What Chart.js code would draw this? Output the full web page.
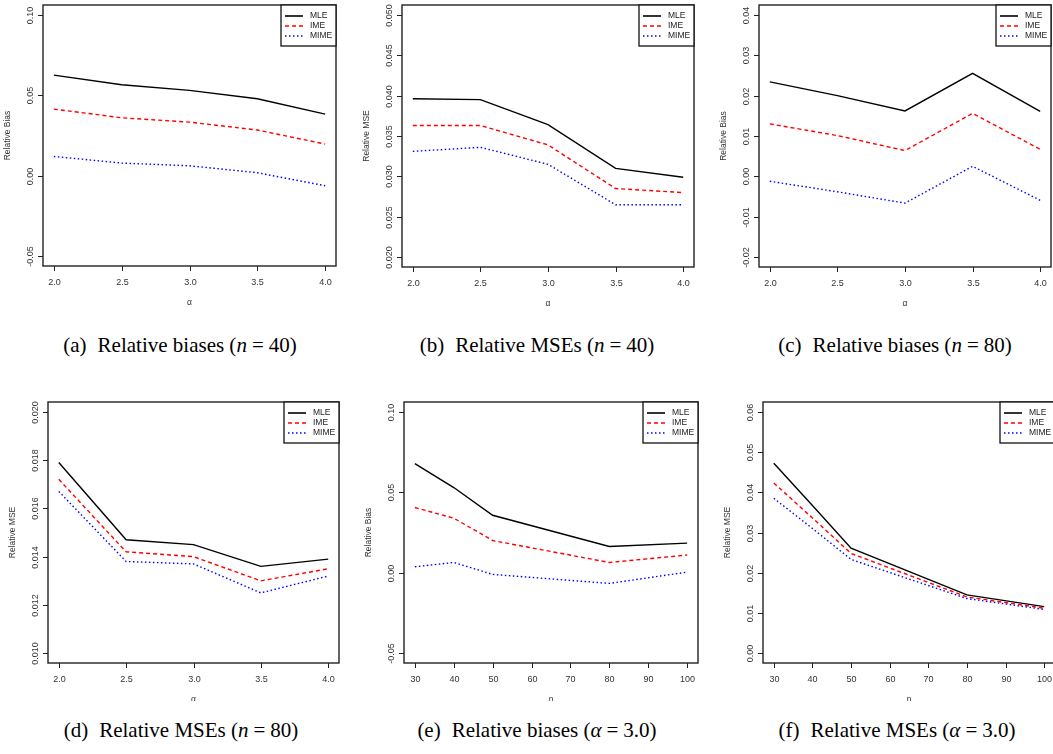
<!DOCTYPE html>
<html>
<head>
<meta charset="utf-8">
<script src="https://cdn.jsdelivr.net/npm/chart.js@4/dist/chart.umd.min.js"></script>
<style>
  body { margin: 0; width: 1053px; height: 754px; overflow: hidden; background: #fff; position: relative; }
  .panel { position: absolute; overflow: hidden; }
  .cap { position: absolute; width: 360px; margin-left: -180px; text-align: center; white-space: nowrap;
         font-family: "Liberation Serif", "Times New Roman", serif; font-size: 21px; color: #000; line-height: 22px; }
  .cap .q { display: inline-block; width: 11px; }
  .cap .t { display: inline-block; width: 5px; }
</style>
</head>
<body>

<div class="panel" style="left:0;top:0;width:351px;height:312px"><canvas id="chartA" width="351" height="312"></canvas></div>
<div class="panel" style="left:351px;top:0;width:351px;height:312px"><canvas id="chartB" width="351" height="312"></canvas></div>
<div class="panel" style="left:702px;top:0;width:351px;height:312px"><canvas id="chartC" width="351" height="312"></canvas></div>
<div class="panel" style="left:0;top:390px;width:351px;height:311px"><canvas id="chartD" width="351" height="311"></canvas></div>
<div class="panel" style="left:351px;top:390px;width:351px;height:311px"><canvas id="chartE" width="351" height="311"></canvas></div>
<div class="panel" style="left:702px;top:390px;width:351px;height:311px"><canvas id="chartF" width="360" height="311"></canvas></div>

<div class="cap" style="left:180px;top:334px">(a)<span class="q"></span>Relative biases (<i>n</i><span class="t"></span>=<span class="t"></span>40)</div>
<div class="cap" style="left:537px;top:334px">(b)<span class="q"></span>Relative MSEs (<i>n</i><span class="t"></span>=<span class="t"></span>40)</div>
<div class="cap" style="left:895px;top:334px">(c)<span class="q"></span>Relative biases (<i>n</i><span class="t"></span>=<span class="t"></span>80)</div>
<div class="cap" style="left:181px;top:719px">(d)<span class="q"></span>Relative MSEs (<i>n</i><span class="t"></span>=<span class="t"></span>80)</div>
<div class="cap" style="left:537px;top:719px">(e)<span class="q"></span>Relative biases (<i>α</i><span class="t"></span>=<span class="t"></span>3.0)</div>
<div class="cap" style="left:897px;top:719px">(f)<span class="q"></span>Relative MSEs (<i>α</i><span class="t"></span>=<span class="t"></span>3.0)</div>

<script>
// x values
var alphaVals = [2.0, 2.5, 3.0, 3.5, 4.0];
var nVals = [30, 40, 50, 80, 100];

// (a) relative bias, n = 40
var biasN40MLE  = [0.0625, 0.0565, 0.0530, 0.0478, 0.0383];
var biasN40IME  = [0.0414, 0.0360, 0.0333, 0.0284, 0.0197];
var biasN40MIME = [0.0120, 0.0079, 0.0062, 0.0019, -0.0062];

// (b) relative MSE, n = 40
var mseN40MLE  = [0.0396, 0.0395, 0.0364, 0.0310, 0.0299];
var mseN40IME  = [0.0363, 0.0363, 0.0339, 0.0285, 0.0280];
var mseN40MIME = [0.0331, 0.0336, 0.0315, 0.0265, 0.0265];

// (c) relative bias, n = 80
var biasN80MLE  = [0.0234, 0.0200, 0.0162, 0.0255, 0.0161];
var biasN80IME  = [0.0130, 0.0101, 0.0064, 0.0156, 0.0067];
var biasN80MIME = [-0.0012, -0.0038, -0.0066, 0.0025, -0.0059];

// (d) relative MSE, n = 80
var mseN80MLE  = [0.0179, 0.0147, 0.0145, 0.0136, 0.0139];
var mseN80IME  = [0.0172, 0.0142, 0.0140, 0.0130, 0.0135];
var mseN80MIME = [0.0167, 0.0138, 0.0137, 0.0125, 0.0132];

// (e) relative bias, alpha = 3.0
var biasA3MLE  = [0.0678, 0.0529, 0.0357, 0.0163, 0.0184];
var biasA3IME  = [0.0405, 0.0339, 0.0200, 0.0064, 0.0110];
var biasA3MIME = [0.0037, 0.0064, -0.0010, -0.0066, 0.0004];

// (f) relative MSE, alpha = 3.0
var mseA3MLE  = [0.0472, 0.0367, 0.0261, 0.0145, 0.0116];
var mseA3IME  = [0.0423, 0.0336, 0.0248, 0.0140, 0.0112];
var mseA3MIME = [0.0385, 0.0310, 0.0233, 0.0136, 0.0109];

// tick labels
var alphaTicks = [2.0, 2.5, 3.0, 3.5, 4.0];
var alphaTickLabels = ["2.0", "2.5", "3.0", "3.5", "4.0"];
var nTicks = [30, 40, 50, 60, 70, 80, 90, 100];
var nTickLabels = ["30", "40", "50", "60", "70", "80", "90", "100"];
var biasTicks = [-0.05, 0, 0.05, 0.10];
var biasTickLabels = ["-0.05", "0.00", "0.05", "0.10"];
var mse40Ticks = [0.020, 0.025, 0.030, 0.035, 0.040, 0.045, 0.050];
var mse40TickLabels = ["0.020", "0.025", "0.030", "0.035", "0.040", "0.045", "0.050"];
var bias80Ticks = [-0.02, -0.01, 0, 0.01, 0.02, 0.03, 0.04];
var bias80TickLabels = ["-0.02", "-0.01", "0.00", "0.01", "0.02", "0.03", "0.04"];
var mse80Ticks = [0.010, 0.012, 0.014, 0.016, 0.018, 0.020];
var mse80TickLabels = ["0.010", "0.012", "0.014", "0.016", "0.018", "0.020"];
var mseA3Ticks = [0, 0.01, 0.02, 0.03, 0.04, 0.05, 0.06];
var mseA3TickLabels = ["0.00", "0.01", "0.02", "0.03", "0.04", "0.05", "0.06"];

var legendNames = ["MLE", "IME", "MIME"];
var lineColors = ["#000000", "#ff0000", "#0000ff"];
var lineDashes = [[], [4, 3], [1.5, 2.5]];

/**
 * R style box, ticks, axis titles and legend
 */
var rAxes = {
    id: 'rAxes',
    afterDraw: function(chart, args, o) {
        var ctx = chart.ctx;
        var a = chart.chartArea;
        var xs = chart.scales.x, ys = chart.scales.y;
        ctx.save();

        // plot box
        ctx.strokeStyle = '#222';
        ctx.lineWidth = 1.4;
        ctx.strokeRect(a.left, a.top, a.right - a.left, a.bottom - a.top);

        ctx.lineWidth = 1;
        ctx.fillStyle = '#333';
        ctx.font = '9px "Liberation Sans", Arial, sans-serif';

        // x ticks
        ctx.textAlign = 'center';
        ctx.textBaseline = 'middle';
        o.xTicks.forEach(function(v, i) {
            var px = Math.round(xs.getPixelForValue(v)) + 0.5;
            ctx.beginPath();
            ctx.moveTo(px, a.bottom);
            ctx.lineTo(px, a.bottom + 5);
            ctx.stroke();
            ctx.fillText(o.xLabels[i], px, a.bottom + 16.5);
        });

        // y ticks, labels turned like R does
        o.yTicks.forEach(function(v, i) {
            var py = Math.round(ys.getPixelForValue(v)) + 0.5;
            ctx.beginPath();
            ctx.moveTo(a.left, py);
            ctx.lineTo(a.left - 5, py);
            ctx.stroke();
            ctx.save();
            ctx.translate(a.left - 12, py);
            ctx.rotate(-Math.PI / 2);
            ctx.fillText(o.yLabels[i], 0, 0);
            ctx.restore();
        });

        // axis titles
        ctx.font = '8.5px "Liberation Sans", Arial, sans-serif';
        ctx.fillText(o.xTitle, (a.left + a.right) / 2, a.bottom + 37);
        ctx.save();
        ctx.translate(a.left - 35, (a.top + a.bottom) / 2);
        ctx.rotate(-Math.PI / 2);
        ctx.fillText(o.yTitle, 0, 0);
        ctx.restore();

        // legend in the top right corner
        var lw = 55, lh = 41;
        var lx = a.right - lw, ly = a.top;
        ctx.fillStyle = '#fff';
        ctx.fillRect(lx, ly, lw, lh);
        ctx.strokeStyle = '#111';
        ctx.lineWidth = 1.3;
        ctx.strokeRect(lx, ly, lw, lh);
        ctx.textAlign = 'left';
        for (var i = 0; i < legendNames.length; i++) {
            var yy = Math.round(ly + 11 + i * 10);
            ctx.beginPath();
            ctx.strokeStyle = lineColors[i];
            ctx.lineWidth = 1.6;
            ctx.setLineDash(lineDashes[i]);
            ctx.moveTo(lx + 4, yy);
            ctx.lineTo(lx + 22, yy);
            ctx.stroke();
            ctx.setLineDash([]);
            ctx.fillStyle = '#222';
            ctx.fillText(legendNames[i], lx + 29, yy);
        }

        ctx.restore();
    }
};

function toPoints(xv, yv) {
    var pts = [];
    for (var i = 0; i < xv.length; i++) {
        pts.push({x: xv[i], y: yv[i]});
    }
    return pts;
}

/**
 * Make one panel
 */
function makePanel(id, xv, series, xRange, yRange, pad, axes) {
    var ctx = document.getElementById(id).getContext('2d');
    // R pads the axis range by 4% on each side
    var xe = (xRange[1] - xRange[0]) * 0.04;
    var ye = (yRange[1] - yRange[0]) * 0.04;
    var datasets = [];
    for (var i = 0; i < series.length; i++) {
        datasets.push({
            label: legendNames[i],
            data: toPoints(xv, series[i]),
            borderColor: lineColors[i],
            borderWidth: 1.4,
            borderDash: lineDashes[i]
        });
    }
    return new Chart(ctx, {
        type: 'line',
        data: { datasets: datasets },
        options: {
            responsive: false,
            animation: false,
            layout: { padding: pad },
            elements: {
                point: { radius: 0 },
                line: { tension: 0, fill: false }
            },
            scales: {
                x: { type: 'linear', display: false, min: xRange[0] - xe, max: xRange[1] + xe },
                y: { type: 'linear', display: false, min: yRange[0] - ye, max: yRange[1] + ye }
            },
            plugins: {
                legend: { display: false },
                tooltip: { enabled: false },
                rAxes: axes
            }
        },
        plugins: [rAxes]
    });
}

makePanel('chartA', alphaVals, [biasN40MLE, biasN40IME, biasN40MIME], [2, 4], [-0.05, 0.10],
    {left: 43, top: 5, right: 15, bottom: 46},
    {xTicks: alphaTicks, xLabels: alphaTickLabels, yTicks: biasTicks, yLabels: biasTickLabels, xTitle: 'α', yTitle: 'Relative Bias'});

makePanel('chartB', alphaVals, [mseN40MLE, mseN40IME, mseN40MIME], [2, 4], [0.020, 0.050],
    {left: 51, top: 5, right: 8, bottom: 45},
    {xTicks: alphaTicks, xLabels: alphaTickLabels, yTicks: mse40Ticks, yLabels: mse40TickLabels, xTitle: 'α', yTitle: 'Relative MSE'});

makePanel('chartC', alphaVals, [biasN80MLE, biasN80IME, biasN80MIME], [2, 4], [-0.02, 0.04],
    {left: 57, top: 5, right: 2, bottom: 45},
    {xTicks: alphaTicks, xLabels: alphaTickLabels, yTicks: bias80Ticks, yLabels: bias80TickLabels, xTitle: 'α', yTitle: 'Relative Bias'});

makePanel('chartD', alphaVals, [mseN80MLE, mseN80IME, mseN80MIME], [2, 4], [0.010, 0.020],
    {left: 48, top: 12, right: 12, bottom: 38},
    {xTicks: alphaTicks, xLabels: alphaTickLabels, yTicks: mse80Ticks, yLabels: mse80TickLabels, xTitle: 'α', yTitle: 'Relative MSE'});

makePanel('chartE', nVals, [biasA3MLE, biasA3IME, biasA3MIME], [30, 100], [-0.05, 0.10],
    {left: 53, top: 12, right: 4, bottom: 38},
    {xTicks: nTicks, xLabels: nTickLabels, yTicks: biasTicks, yLabels: biasTickLabels, xTitle: 'n', yTitle: 'Relative Bias'});

makePanel('chartF', nVals, [mseA3MLE, mseA3IME, mseA3MIME], [30, 100], [0, 0.06],
    {left: 61, top: 12, right: 7, bottom: 38},
    {xTicks: nTicks, xLabels: nTickLabels, yTicks: mseA3Ticks, yLabels: mseA3TickLabels, xTitle: 'n', yTitle: 'Relative MSE'});
</script>
</body>
</html>
